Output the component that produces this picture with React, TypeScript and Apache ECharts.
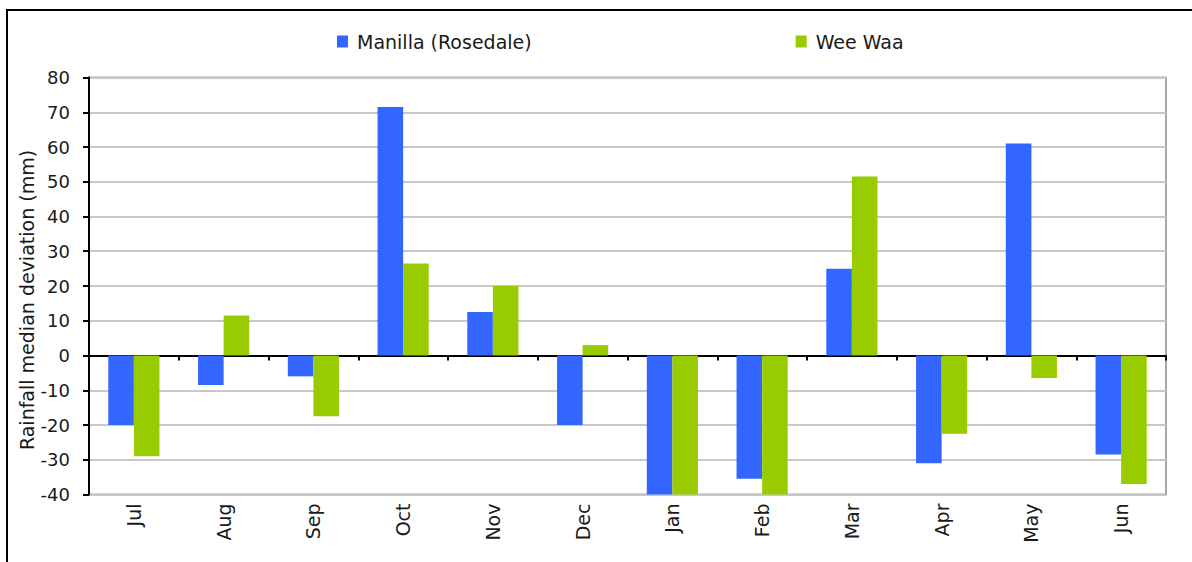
import React, { useEffect, useRef } from "react";
import * as echarts from "echarts";

const months = ["Jul", "Aug", "Sep", "Oct", "Nov", "Dec", "Jan", "Feb", "Mar", "Apr", "May", "Jun"];
const manilla = [-20, -8.5, -6, 71.5, 12.5, -20, -40, -35.5, 25, -31, 61, -28.5];
const weeWaa = [-29, 11.5, -17.5, 26.5, 20, 3, -40, -40, 51.5, -22.5, -6.5, -37];
const seriesNames = ["Manilla (Rosedale)", "Wee Waa"];
const yTitle = "Rainfall median deviation (mm)";

const FONT = "DejaVu Sans";

export default function App() {
  const ref = useRef<HTMLDivElement>(null);
  useEffect(() => {
    document.body.style.margin = "0";
    const chart = echarts.init(ref.current!, null, { renderer: "svg" });
    chart.setOption({
      animation: false,
      backgroundColor: "#ffffff",
      textStyle: { fontFamily: FONT },
      legend: {
        left: 337,
        top: 32,
        padding: 0,
        itemWidth: 11,
        itemHeight: 12,
        itemGap: 264,
        icon: "rect",
        textStyle: { fontFamily: FONT, fontSize: 19, color: "#1a1a1a", padding: [0, 0, 0, 4] },
        data: seriesNames,
      },
      grid: {
        left: 89,
        top: 77.5,
        right: 26,
        bottom: 67.5,
        show: true,
        borderColor: "#a6a6a6",
        borderWidth: 2,
        backgroundColor: "transparent",
      },
      graphic: [
        {
          type: "rect",
          shape: { x: 7, y: 10, width: 1300, height: 700 },
          style: { fill: "none", stroke: "#000000", lineWidth: 2 },
          silent: true,
        },
        {
          type: "text",
          x: 27,
          y: 300,
          rotation: Math.PI / 2,
          style: {
            text: yTitle,
            font: `19px "${FONT}"`,
            fill: "#1a1a1a",
            align: "center",
            verticalAlign: "middle",
          },
        },
      ],
      xAxis: [
        {
          type: "category",
          data: months,
          position: "bottom",
          axisLine: { show: false, onZero: false },
          axisTick: { show: false },
          axisLabel: {
            rotate: 90,
            margin: 9,
            fontFamily: FONT,
            fontSize: 19,
            color: "#1a1a1a",
          },
        },
        {
          type: "category",
          data: months,
          position: "top",
          axisLine: { show: true, onZero: true, lineStyle: { color: "#000000", width: 2 } },
          axisTick: { show: true, inside: true, length: 5, lineStyle: { color: "#000000", width: 2 } },
          axisLabel: { show: false },
        },
      ],
      yAxis: {
        type: "value",
        min: -40,
        max: 80,
        interval: 10,
        axisLine: { show: true, lineStyle: { color: "#000000", width: 2 } },
        axisTick: { show: true, length: 6, lineStyle: { color: "#000000", width: 2 } },
        axisLabel: {
          margin: 19,
          fontFamily: FONT,
          fontSize: 18,
          color: "#1a1a1a",
        },
        splitLine: { show: true, lineStyle: { color: "#c8c8c8", width: 2 } },
      },
      series: [
        {
          name: seriesNames[0],
          type: "bar",
          data: manilla,
          xAxisIndex: 0,
          barGap: "0%",
          barCategoryGap: "43%",
          itemStyle: { color: "#3366ff" },
        },
        {
          name: seriesNames[1],
          type: "bar",
          data: weeWaa,
          xAxisIndex: 0,
          barGap: "0%",
          barCategoryGap: "43%",
          itemStyle: { color: "#99cc00" },
        },
      ],
    });
    return () => chart.dispose();
  }, []);
  return <div ref={ref} style={{ width: 1192, height: 562 }} />;
}
